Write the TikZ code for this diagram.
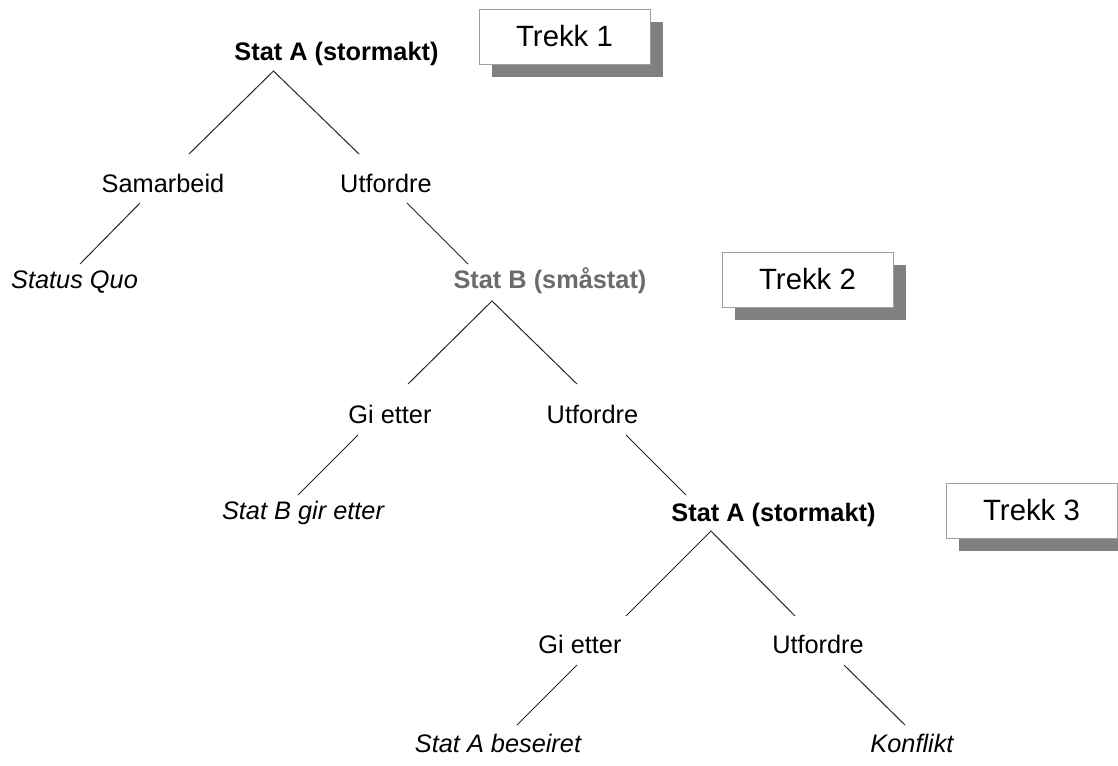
\documentclass[tikz,border=0pt]{standalone}
\usepackage{fontspec}
\setmainfont{Liberation Sans}
\usetikzlibrary{shadows}
\begin{document}
\begin{tikzpicture}[x=0.75pt,y=-0.75pt,
  lbl/.style={anchor=base, inner sep=0pt, font=\fontsize{19}{23}\selectfont},
  player/.style={lbl, font=\fontsize{19}{23}\selectfont\bfseries},
  outcome/.style={lbl, font=\fontsize{19}{23}\selectfont\itshape},
  branch/.style={draw=black!85, line width=0.75pt},
  movebox/.style={draw=black!38, line width=0.75pt, fill=white,
    minimum width=128.25pt, minimum height=41.25pt, inner sep=0pt,
    font=\fontsize{22}{26}\selectfont,
    drop shadow={fill=black!50, opacity=1, shadow xshift=9.4pt, shadow yshift=-9.4pt}}
]
\useasboundingbox (0,0) rectangle (1118,765);

% move labels
\node[movebox] (trekk1) at (564.5,36.5) {Trekk 1};
\node[movebox] (trekk2) at (807.5,279.5) {Trekk 2};
\node[movebox] (trekk3) at (1031.5,510.5) {Trekk 3};

% level 1
\node[player] (stA1) at (336.5,60) {Stat A (stormakt)};
\node[lbl] (samarbeid) at (163,192) {Samarbeid};
\node[lbl] (utf1) at (386,192) {Utfordre};
\node[outcome] (statusquo) at (74.5,288) {Status Quo};

% level 2
\node[player, text=black!58] (stB) at (550,288) {Stat B (småstat)};
\node[lbl] (gi1) at (390,423) {Gi etter};
\node[lbl] (utf2) at (592.5,423) {Utfordre};
\node[outcome] (bgir) at (303,519) {Stat B gir etter};

% level 3
\node[player] (stA2) at (773.5,521) {Stat A (stormakt)};
\node[lbl] (gi2) at (580,653) {Gi etter};
\node[lbl] (utf3) at (818,653) {Utfordre};
\node[outcome] (abes) at (498,752) {Stat A beseiret};
\node[outcome] (konflikt) at (912,752) {Konflikt};

% branch end points
\coordinate (stA1-fork) at (273.5,71);
\coordinate (samarbeid-top) at (189,154);
\coordinate (utf1-top) at (359,154);
\coordinate (samarbeid-foot) at (140,203);
\coordinate (statusquo-top) at (80,264);
\coordinate (utf1-foot) at (407,203);
\coordinate (stB-top) at (468,264);

\coordinate (stB-fork) at (492,301);
\coordinate (gi1-top) at (408,384);
\coordinate (utf2-top) at (577,384);
\coordinate (gi1-foot) at (358,435);
\coordinate (bgir-top) at (298,495);
\coordinate (utf2-foot) at (626,435);
\coordinate (stA2-top) at (686,495);

\coordinate (stA2-fork) at (711,531);
\coordinate (gi2-top) at (626,616);
\coordinate (utf3-top) at (795,616);
\coordinate (gi2-foot) at (577,665);
\coordinate (abes-top) at (517,725);
\coordinate (utf3-foot) at (844,665);
\coordinate (konflikt-top) at (905,725);

% branches
\draw[branch] (samarbeid-top) -- (stA1-fork) -- (utf1-top);
\draw[branch] (samarbeid-foot) -- (statusquo-top);
\draw[branch] (utf1-foot) -- (stB-top);

\draw[branch] (gi1-top) -- (stB-fork) -- (utf2-top);
\draw[branch] (gi1-foot) -- (bgir-top);
\draw[branch] (utf2-foot) -- (stA2-top);

\draw[branch] (gi2-top) -- (stA2-fork) -- (utf3-top);
\draw[branch] (gi2-foot) -- (abes-top);
\draw[branch] (utf3-foot) -- (konflikt-top);
\end{tikzpicture}
\end{document}
